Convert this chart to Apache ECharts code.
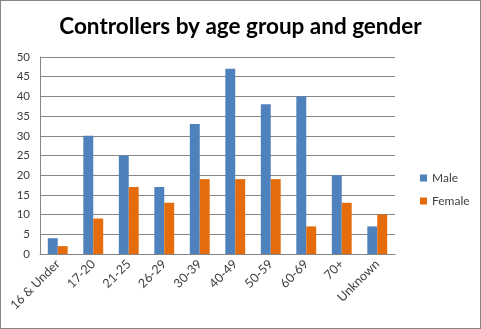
<!DOCTYPE html>
<html>
<head>
<meta charset="utf-8">
<script src="https://cdn.jsdelivr.net/npm/echarts@6/dist/echarts.min.js"></script>
<style>
  html, body { margin: 0; padding: 0; background: #fff; }
  #chart { width: 481px; height: 329px; box-sizing: border-box; border: 1px solid #868686; }
</style>
</head>
<body>
<div id="chart"></div>
<script>
// Age groups along the x axis
const categories = ['16 & Under', '17-20', '21-25', '26-29', '30-39', '40-49', '50-59', '60-69', '70+', 'Unknown'];
// Number of controllers per age group
const male = [4, 30, 25, 17, 33, 47, 38, 40, 20, 7];
const female = [2, 9, 17, 13, 19, 19, 19, 7, 13, 10];

const chart = echarts.init(document.getElementById('chart'), null, { renderer: 'canvas' });
const font = 'Lato, "Open Sans", sans-serif';

chart.setOption({
  animation: false,
  title: {
    text: 'Controllers by age group and gender',
    left: 'center',
    top: 9,
    textStyle: { fontFamily: font, fontSize: 22.5, fontWeight: 'bold', color: '#000' }
  },
  legend: {
    orient: 'vertical',
    left: 414,
    top: 166,
    itemWidth: 7,
    itemHeight: 7,
    itemGap: 11,
    icon: 'rect',
    textStyle: { fontFamily: font, fontSize: 12, color: '#404040' },
    data: ['Male', 'Female']
  },
  grid: { left: 39, right: 85, top: 56, bottom: 74, containLabel: false },
  xAxis: {
    type: 'category',
    data: categories,
    axisLine: { lineStyle: { color: '#868686' } },
    axisTick: { show: false },
    axisLabel: { rotate: 45, fontFamily: font, fontSize: 12.5, color: '#404040', margin: 8, interval: 0 }
  },
  yAxis: {
    type: 'value',
    min: 0,
    max: 50,
    interval: 5,
    axisLine: { show: true, lineStyle: { color: '#868686' } },
    axisTick: { show: false },
    splitLine: { lineStyle: { color: '#868686' } },
    axisLabel: { fontFamily: font, fontSize: 11.5, color: '#404040', margin: 10 }
  },
  series: [
    { name: 'Male', type: 'bar', data: male, itemStyle: { color: '#4F81BD' }, barGap: '0%', barCategoryGap: '44%' },
    { name: 'Female', type: 'bar', data: female, itemStyle: { color: '#E46C0A' } }
  ]
});
</script>
</body>
</html>
